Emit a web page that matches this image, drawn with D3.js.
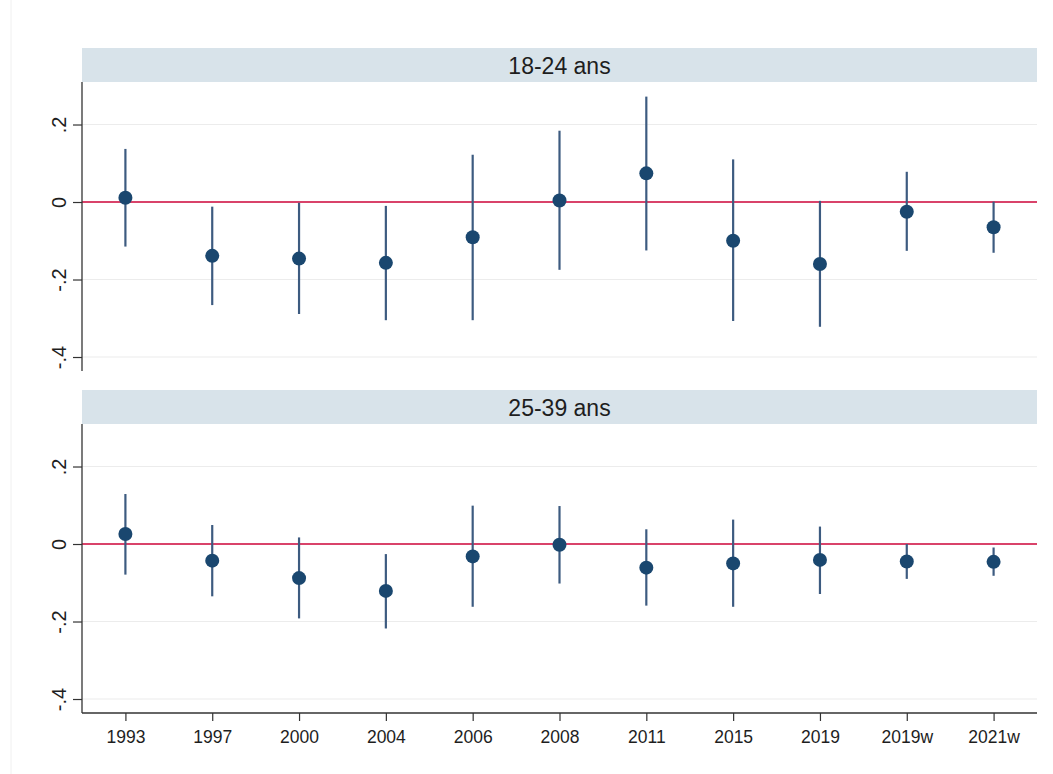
<!DOCTYPE html>
<html>
<head>
<meta charset="utf-8">
<script src="https://cdn.jsdelivr.net/npm/d3@7"></script>
<style>
  body { margin: 0; background: #fff; }
  svg { display: block; font-family: "Liberation Sans", Arial, sans-serif; }
</style>
</head>
<body>
<svg id="chart" width="1053" height="774"></svg>
<script>
const categories = ["1993","1997","2000","2004","2006","2008","2011","2015","2019","2019w","2021w"];
const panelTitles = ["18-24 ans", "25-39 ans"];
const yTicks = [0.2, 0, -0.2, -0.4];
const yTickLabels = [".2", "0", "-.2", "-.4"];

// 18-24 ans
const est1824 = [0.011, -0.139, -0.146, -0.157, -0.091, 0.004, 0.074, -0.100, -0.160, -0.025, -0.065];
const lo1824  = [-0.115, -0.266, -0.289, -0.305, -0.305, -0.175, -0.125, -0.307, -0.322, -0.126, -0.131];
const hi1824  = [0.137, -0.012, -0.002, -0.010, 0.122, 0.184, 0.272, 0.110, 0.003, 0.078, 0.001];

// 25-39 ans
const est2539 = [0.026, -0.043, -0.088, -0.121, -0.032, -0.002, -0.061, -0.050, -0.041, -0.045, -0.046];
const lo2539  = [-0.079, -0.135, -0.192, -0.218, -0.162, -0.102, -0.159, -0.162, -0.129, -0.090, -0.082];
const hi2539  = [0.129, 0.049, 0.017, -0.026, 0.099, 0.098, 0.038, 0.063, 0.045, 0.000, -0.009];

const panels = [
  { title: panelTitles[0], est: est1824, lo: lo1824, hi: hi1824, top: 48 },
  { title: panelTitles[1], est: est2539, lo: lo2539, hi: hi2539, top: 390 }
];

const svg = d3.select("#chart");
const left = 82, right = 1037;
const headerH = 34, plotH = 289;

// faint outer graph-region border
svg.append("line").attr("x1", 11).attr("x2", 11).attr("y1", 0).attr("y2", 774)
  .attr("stroke", "#f0f0f0").attr("stroke-width", 1);

const x = d3.scalePoint().domain(categories).range([left, right]).padding(0.5);

panels.forEach((p, pi) => {
  const plotTop = p.top + headerH;
  const plotBottom = plotTop + plotH;
  const y = d3.scaleLinear().domain([0.3097, -0.4361]).range([plotTop, plotBottom]);

  const g = svg.append("g");

  g.append("rect").attr("x", left).attr("y", p.top).attr("width", right - left).attr("height", headerH)
    .attr("fill", "#d8e3ea");
  g.append("text").attr("x", (left + right) / 2).attr("y", p.top + 25.5)
    .attr("text-anchor", "middle").style("font-size", "23px").attr("fill", "#1e1e1e")
    .text(p.title);

  g.selectAll(".grid").data(yTicks.filter(t => t !== 0)).enter().append("line")
    .attr("x1", left).attr("x2", right)
    .attr("y1", d => y(d)).attr("y2", d => y(d))
    .attr("stroke", "#ececec").attr("stroke-width", 1.2);

  g.append("line").attr("x1", left).attr("x2", right)
    .attr("y1", y(0)).attr("y2", y(0))
    .attr("stroke", "#d9436a").attr("stroke-width", 2.2);

  const yAxis = d3.axisLeft(y).tickValues(yTicks)
    .tickFormat((d, i) => yTickLabels[i]).tickSize(9).tickPadding(8);
  const ya = g.append("g").attr("transform", `translate(${left},0)`).call(yAxis);
  ya.attr("font-size", null);
  ya.select(".domain").attr("stroke", "#333").attr("stroke-width", 1.3)
    .attr("d", `M0,${plotTop}V${plotBottom}`);
  ya.selectAll(".tick line").attr("stroke", "#333").attr("stroke-width", 1.2);
  ya.selectAll(".tick text")
    .style("font-size", "20px").attr("fill", "#1e1e1e")
    .attr("text-anchor", "middle")
    .attr("x", -23.5).attr("dy", "0.35em")
    .attr("transform", "rotate(-90, -23.5, 0)");

  g.selectAll(".ci").data(categories).enter().append("line")
    .attr("x1", d => x(d)).attr("x2", d => x(d))
    .attr("y1", (d, i) => y(p.hi[i])).attr("y2", (d, i) => y(p.lo[i]))
    .attr("stroke", "#3d5b80").attr("stroke-width", 2.2);

  g.selectAll(".pt").data(categories).enter().append("circle")
    .attr("cx", d => x(d)).attr("cy", (d, i) => y(p.est[i]))
    .attr("r", 7).attr("fill", "#1a476f");

  if (pi === 1) {
    const xAxis = d3.axisBottom(x).tickSize(8).tickPadding(10);
    const xa = g.append("g").attr("transform", `translate(0,${plotBottom})`).call(xAxis);
    xa.attr("font-size", null);
    xa.select(".domain").attr("stroke", "#333").attr("stroke-width", 1.3)
      .attr("d", `M${left},0H${right}`);
    xa.selectAll(".tick line").attr("stroke", "#333").attr("stroke-width", 1.2);
    xa.selectAll(".tick text").style("font-size", "17.5px").attr("fill", "#1e1e1e");
  }
});
</script>
</body>
</html>
